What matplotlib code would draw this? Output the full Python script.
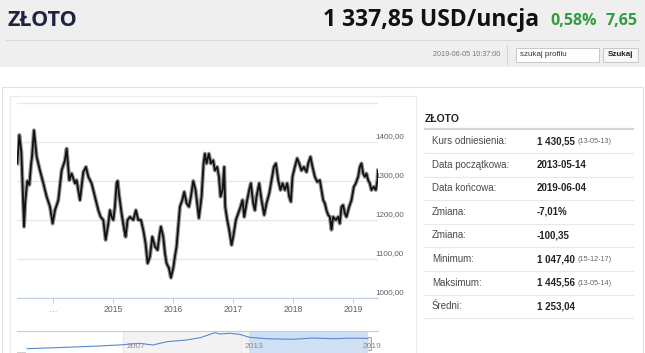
import matplotlib
matplotlib.use("Agg")
import matplotlib.pyplot as plt
from matplotlib.patches import Rectangle
from matplotlib.transforms import blended_transform_factory, ScaledTranslation

# ---------------- data ----------------
years = [2013.405, 2013.439, 2013.472, 2013.494, 2013.517, 2013.539, 2013.572, 2013.606, 2013.633, 2013.650,
         2013.683, 2013.728, 2013.783, 2013.839, 2013.894, 2013.950, 2013.994, 2014.033, 2014.089, 2014.117,
         2014.144, 2014.200, 2014.228, 2014.272, 2014.311, 2014.367, 2014.394, 2014.450, 2014.506, 2014.550,
         2014.589, 2014.644, 2014.700, 2014.756, 2014.794, 2014.839, 2014.878, 2014.922, 2014.950, 2014.978,
         2015.006, 2015.033, 2015.061, 2015.078, 2015.100, 2015.144, 2015.189, 2015.211, 2015.244, 2015.283,
         2015.339, 2015.383, 2015.422, 2015.467, 2015.506, 2015.544, 2015.578, 2015.617, 2015.656, 2015.700,
         2015.744, 2015.772, 2015.800, 2015.839, 2015.867, 2015.894, 2015.933, 2015.967, 2016.006, 2016.033,
         2016.061, 2016.089, 2016.117, 2016.156, 2016.189, 2016.228, 2016.267, 2016.300, 2016.339, 2016.378,
         2016.433, 2016.478, 2016.511, 2016.533, 2016.561, 2016.600, 2016.633, 2016.672, 2016.700, 2016.739,
         2016.767, 2016.794, 2016.828, 2016.855, 2016.872, 2016.906, 2016.939, 2016.978, 2017.006, 2017.050,
         2017.089, 2017.128, 2017.161, 2017.189, 2017.228, 2017.272, 2017.300, 2017.339, 2017.367, 2017.394,
         2017.439, 2017.478, 2017.522, 2017.561, 2017.606, 2017.644, 2017.683, 2017.717, 2017.756, 2017.794,
         2017.828, 2017.867, 2017.906, 2017.939, 2017.967, 2017.994, 2018.033, 2018.072, 2018.106, 2018.144,
         2018.183, 2018.228, 2018.256, 2018.294, 2018.328, 2018.367, 2018.406, 2018.450, 2018.478, 2018.506,
         2018.533, 2018.561, 2018.589, 2018.617, 2018.644, 2018.672, 2018.717, 2018.756, 2018.783, 2018.811,
         2018.839, 2018.867, 2018.894, 2018.939, 2018.978, 2019.017, 2019.050, 2019.089, 2019.117, 2019.144,
         2019.172, 2019.200, 2019.228, 2019.256, 2019.283, 2019.311, 2019.350, 2019.383, 2019.411, 2019.420]
prices = [1345, 1418, 1375, 1285, 1183, 1250, 1300, 1290, 1340, 1362,
          1430, 1362, 1327, 1294, 1260, 1234, 1191, 1225, 1251, 1290,
          1327, 1353, 1383, 1302, 1319, 1294, 1302, 1251, 1323, 1336,
          1311, 1294, 1260, 1225, 1208, 1200, 1149, 1190, 1225, 1208,
          1200, 1234, 1294, 1300, 1268, 1217, 1174, 1157, 1200, 1208,
          1200, 1225, 1200, 1200, 1174, 1140, 1089, 1106, 1157, 1132,
          1123, 1157, 1183, 1157, 1115, 1089, 1077, 1052, 1077, 1106,
          1132, 1183, 1234, 1251, 1272, 1243, 1234, 1260, 1300, 1277,
          1205, 1260, 1345, 1370, 1345, 1370, 1345, 1353, 1327, 1336,
          1311, 1260, 1277, 1336, 1234, 1200, 1174, 1136, 1157, 1200,
          1217, 1234, 1251, 1208, 1243, 1277, 1294, 1243, 1225, 1260,
          1294, 1251, 1213, 1243, 1268, 1302, 1336, 1345, 1302, 1277,
          1294, 1277, 1294, 1260, 1247, 1311, 1336, 1358, 1345, 1327,
          1336, 1323, 1345, 1362, 1336, 1311, 1298, 1302, 1277, 1251,
          1243, 1225, 1213, 1208, 1175, 1208, 1200, 1208, 1191, 1234,
          1238, 1217, 1208, 1234, 1251, 1285, 1294, 1311, 1336, 1345,
          1319, 1311, 1319, 1302, 1294, 1277, 1285, 1277, 1302, 1327]

y_grid = [1000, 1100, 1200, 1300, 1400, 1500]
y_labels = ["1000,00", "1100,00", "1200,00", "1300,00", "1400,00"]
x_ticks = [2014, 2015, 2016, 2017, 2018, 2019]
x_labels = ["…", "2015", "2016", "2017", "2018", "2019"]

nav_years = [2002.1, 2004.1, 2005.8, 2007.0, 2007.8, 2008.5, 2009.2, 2010.2, 2010.9, 2011.65,
             2011.9, 2012.4, 2012.9, 2013.4, 2014.3, 2015.6, 2016.6, 2017.7, 2018.5, 2019.42]
nav_values = [300, 431, 553, 675, 806, 647, 956, 1116, 1331, 1800,
              1678, 1744, 1650, 1369, 1237, 1181, 1300, 1237, 1290, 1260]
nav_ticks = [2007, 2013, 2019]
sel_start, sel_end = 2013.37, 2019.42

title = "ZŁOTO"
price_text = "1 337,85 USD/uncja"
change_pct = "0,58%"
change_abs = "7,65"
timestamp = "2019-06-05 10:37:00"
search_placeholder = "szukaj profilu"
search_button = "Szukaj"

panel_title = "ZŁOTO"
row_labels = ["Kurs odniesienia:", "Data początkowa:", "Data końcowa:", "Zmiana:",
              "Zmiana:", "Minimum:", "Maksimum:", "Średni:"]
row_values = ["1 430,55", "2013-05-14", "2019-06-04", "-7,01%",
              "-100,35", "1 047,40", "1 445,56", "1 253,04"]
row_notes = ["(13-05-13)", "", "", "", "", "(15-12-17)", "(13-05-14)", ""]

# ---------------- figure ----------------
W, H = 645, 353
fig = plt.figure(figsize=(W / 100, H / 100), dpi=100)
fig.patch.set_facecolor("white")

bg = fig.add_axes([0, 0, 1, 1])
bg.set_xlim(0, W)
bg.set_ylim(H, 0)
bg.axis("off")

HF = ["Open Sans", "DejaVu Sans"]
AF = ["Liberation Sans", "DejaVu Sans"]

# header band
bg.add_patch(Rectangle((0, 0), W, 67, color="#efefef", lw=0))
bg.text(7, 20, title, fontsize=15.5, fontweight="bold", color="#1c2440", family=HF, va="center")
bg.text(597, 21, change_pct, fontsize=11.5, fontweight="bold", color="#2e9e3e", family=HF,
        va="center", ha="right")
bg.text(638, 21, change_abs, fontsize=11.5, fontweight="bold", color="#2e9e3e", family=HF,
        va="center", ha="right")
bg.text(539, 20, price_text, fontsize=16.5, fontweight="bold", color="#111111", family=HF,
        va="center", ha="right")
bg.plot([6, 638], [40, 40], color="#d9d9d9", lw=0.8)
bg.text(500, 54.5, timestamp, fontsize=5.2, color="#777777", family=AF, va="center", ha="right")
bg.plot([507, 507], [45, 64], color="#d5d5d5", lw=0.8)
bg.add_patch(Rectangle((516, 47.5), 83, 14, facecolor="white", edgecolor="#c8c8c8", lw=0.7))
bg.text(520, 54.5, search_placeholder, fontsize=5.8, color="#333333", family=AF, va="center")
bg.add_patch(Rectangle((603, 47.5), 35, 14, facecolor="#f7f7f7", edgecolor="#c8c8c8", lw=0.7))
bg.text(620.5, 54.5, search_button, fontsize=5.8, fontweight="bold", color="#222222", family=AF,
        va="center", ha="center")

# panels
bg.add_patch(Rectangle((2, 87), 641, 300, fill=False, edgecolor="#e2e2e2", lw=0.8))
bg.add_patch(Rectangle((9.5, 95.5), 406.5, 300, fill=False, edgecolor="#ececec", lw=0.8))

# right info panel
bg.text(425, 119, panel_title, fontsize=7.5, fontweight="bold", color="#222222", family=AF, va="center")
bg.plot([425, 633], [128.5, 128.5], color="#d4d4d4", lw=1.6)
for i, (lab, val, note) in enumerate(zip(row_labels, row_values, row_notes)):
    yy = 141 + i * 23.6
    bg.text(432, yy, lab, fontsize=7, color="#4a4a4a", family=AF, va="center")
    bg.text(537, yy, val, fontsize=7, fontweight="bold", color="#222222", family=AF, va="center")
    if note:
        bg.text(578, yy + 0.5, note, fontsize=5.2, color="#666666", family=AF, va="center")
    bg.plot([425, 633], [yy + 12, yy + 12], color="#e8e8e8", lw=0.8)

# ---------------- main chart ----------------
ax = fig.add_axes([17 / W, 1 - 298 / H, 361 / W, 195 / H])
ax.set_facecolor("none")
ax.set_xlim(2013.40, 2019.42)
ax.set_ylim(1000, 1500)
ax.set_yticks(y_grid)
ax.yaxis.grid(True, color="#e6e6e6", lw=0.9)
ax.tick_params(axis="y", length=0, labelleft=False)
for s in ["top", "left", "right"]:
    ax.spines[s].set_visible(False)
ax.spines["bottom"].set_color("#c0d0e0")
ax.spines["bottom"].set_linewidth(0.9)
ax.set_xticks(x_ticks)
ax.set_xticklabels(x_labels, family=AF)
ax.tick_params(axis="x", length=3.6, width=0.7, color="#c0d0e0", labelsize=6.2,
               labelcolor="#606060", pad=1.2)
ax.get_xticklabels()[0].set_color("#b0b0b0")

ax.plot(years, prices, color="#959595", lw=2.9, zorder=3)
ax.plot(years, prices, color="#111111", lw=1.3, zorder=4)

ylab_tr = blended_transform_factory(bg.transData, ax.transData) + \
    ScaledTranslation(0, 5 / 100, fig.dpi_scale_trans)
for v, lab in zip(y_grid, y_labels):
    bg.text(375, v, lab, transform=ylab_tr, fontsize=5.8, color="#606060", family=AF,
            va="center", ha="left", zorder=5)

# ---------------- navigator ----------------
nav = fig.add_axes([17 / W, 0, 361 / W, 22 / H])
nav.set_facecolor("none")
nav.set_xlim(2001.586, 2019.94)
nav.set_ylim(-103, 1959)
for s in ["left", "right", "bottom"]:
    nav.spines[s].set_visible(False)
nav.spines["top"].set_color("#cccccc")
nav.spines["top"].set_linewidth(0.8)
nav.set_xticks([])
nav.set_yticks([])
nav.axvspan(nav_ticks[0], sel_start, color="#f3f3f3", lw=0, zorder=0)
nav.axvspan(sel_start, sel_end, color="#cfe0f4", lw=0, zorder=0)
for t in nav_ticks:
    nav.axvline(t, color="#e4e4e4", lw=0.6, zorder=0.5)
nav.plot(nav_years, nav_values, color="#5b88cc", lw=0.8, zorder=2)
lab_tr = blended_transform_factory(nav.transData, nav.transAxes) + \
    ScaledTranslation(3 / 100, 0, fig.dpi_scale_trans)
for t in nav_ticks:
    nav.text(t, 0.3, str(t), transform=lab_tr, fontsize=6, color="#8a8a8a", family=AF,
             va="center", ha="left", zorder=3)

# handles and scrollbar (positions derived from navigator scale)
for t in (sel_start, sel_end):
    xp = nav.transData.transform((t, 0))[0]
    bg.add_patch(Rectangle((xp - 3, 337), 6, 13, facecolor="#ececec", edgecolor="#9a9a9a",
                           lw=0.6, zorder=5))
xs = nav.transData.transform((sel_start, 0))[0]
xe = nav.transData.transform((sel_end, 0))[0]
bg.add_patch(Rectangle((xs, 351.5), xe - xs, 2, color="#bdbdbd", lw=0, zorder=5))
bg.add_patch(Rectangle((17, 351.5), 9, 2, color="#d0d0d0", lw=0, zorder=5))

fig.savefig("out.png", dpi=100)
